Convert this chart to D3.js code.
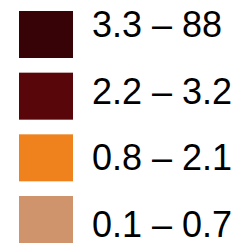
<!DOCTYPE html>
<html>
<head>
<meta charset="utf-8">
<script src="https://cdn.jsdelivr.net/npm/d3@7"></script>
<style>
  body { margin: 0; background: #fff; }
</style>
</head>
<body>
<svg id="legend" width="241" height="243"></svg>
<script>
const labels = ['3.3 – 88', '2.2 – 3.2', '0.8 – 2.1', '0.1 – 0.7'];
const colors = ['#380306', '#59060b', '#f0821e', '#d0946c'];

const svg = d3.select('#legend');

// rows: squares and labels sit on slightly different grids
const boxY = d3.scaleLinear().domain([0, labels.length - 1]).range([11, 196]);
const textY = d3.scaleLinear().domain([0, labels.length - 1]).range([37, 237]);

const row = svg.selectAll('g')
    .data(labels)
    .enter()
    .append('g');

row.append('rect')
    .attr('x', 19)
    .attr('y', (_, i) => boxY(i))
    .attr('width', 54)
    .attr('height', 47)
    .attr('fill', (_, i) => colors[i]);

row.append('text')
    .attr('x', 92)
    .attr('y', (_, i) => textY(i))
    .attr('font-family', 'Liberation Sans, Arial, sans-serif')
    .attr('font-size', '36px')
    .attr('fill', '#000')
    .text(d => d);
</script>
</body>
</html>
